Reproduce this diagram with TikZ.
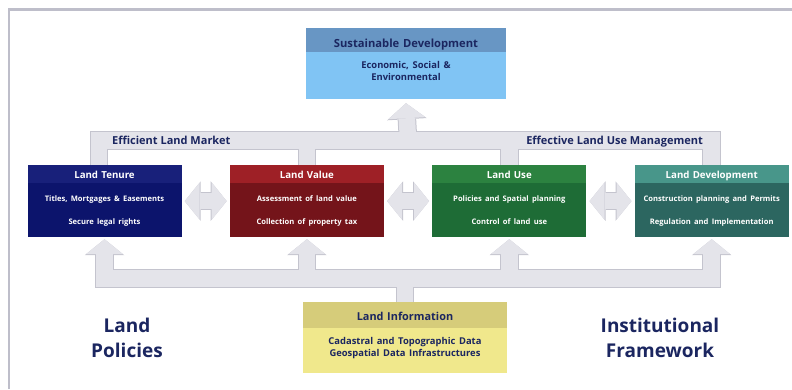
\documentclass[tikz,border=0pt]{standalone}
\usepackage{fontspec}
\setmainfont{Open Sans}
\usepackage{xcolor}
\usetikzlibrary{shapes,positioning,arrows.meta,calc}
\definecolor{navy}{RGB}{27,38,96}
\definecolor{tenureHead}{RGB}{24,32,122}
\definecolor{tenureBody}{RGB}{12,20,108}
\definecolor{valueHead}{RGB}{158,32,38}
\definecolor{valueBody}{RGB}{116,20,26}
\definecolor{useHead}{RGB}{44,130,64}
\definecolor{useBody}{RGB}{30,108,54}
\definecolor{devHead}{RGB}{72,150,138}
\definecolor{devBody}{RGB}{44,102,96}
\definecolor{sustHead}{RGB}{104,150,196}
\definecolor{sustBody}{RGB}{128,196,244}
\definecolor{infoHead}{RGB}{214,204,122}
\definecolor{infoBody}{RGB}{240,232,140}
\definecolor{pipeFill}{RGB}{228,228,234}
\definecolor{pipeEdge}{RGB}{196,196,206}
\definecolor{frameGray}{RGB}{190,190,202}
\tikzset{
	block/.style = {
		rectangle split, rectangle split parts=2, align=center, text width=146pt,
		inner xsep=4pt, inner ysep=4pt, text height=9.5pt, text depth=0pt,
		text=white, font=\bfseries\fontsize{9.7}{12}\selectfont
	}
}
\tikzset{
	tenure/.style = {block, rectangle split part fill={tenureHead,tenureBody}},
	value/.style = {block, rectangle split part fill={valueHead,valueBody}},
	use/.style = {block, rectangle split part fill={useHead,useBody}},
	development/.style = {block, rectangle split part fill={devHead,devBody}}
}
\tikzset{
	goal/.style = {
		block, text=navy, text width=192pt, text height=15pt,
		font=\bfseries\fontsize{11.2}{12}\selectfont,
		rectangle split part fill={sustHead,sustBody}
	}
}
\tikzset{
	source/.style = {
		block, text=navy, text width=196pt, text height=14.5pt, text depth=2.5pt,
		font=\bfseries\fontsize{10.9}{12}\selectfont,
		rectangle split part fill={infoHead,infoBody}
	}
}
\tikzset{
	pipeedge/.style = {
		draw=pipeEdge, line width=18.5pt, line join=miter,
		>={Triangle[width=39.5pt, length=16pt, line width=0pt]}
	}
}
\tikzset{
	pipefill/.style = {
		draw=pipeFill, line width=16.5pt, line join=miter,
		>={Triangle[width=37pt, length=15pt, line width=0pt]}
	}
}
\tikzset{
	bandlabel/.style = {
		text=navy, font=\bfseries\fontsize{11}{12}\selectfont, inner sep=0pt
	}
}
\tikzset{
	biglabel/.style = {
		text=navy, align=center, font=\bfseries\fontsize{19}{25}\selectfont
	}
}

\begin{document}
\begin{tikzpicture}[x=1pt, y=-1pt]
	\useasboundingbox (0,0) rectangle (792,389);
	\draw[frameGray, line width=2.5pt] (9,389) -- (9,9.5) -- (792,9.5);

	\node[tenure, anchor=north](LandTenure) at (104.5,165){Land Tenure
		\nodepart[align=center, text width=146pt]{two}
			\bfseries\fontsize{7.6}{9}\selectfont
			\rule{0pt}{14.5pt}Titles, Mortgages \& Easements\\[11pt]
			Secure legal rights\rule[-8pt]{0pt}{8pt}};
	\node[value, right=48pt of LandTenure](LandValue){Land Value
		\nodepart[align=center, text width=146pt]{two}
			\bfseries\fontsize{7.6}{9}\selectfont
			\rule{0pt}{14.5pt}Assessment of land value\\[11pt]
			Collection of property tax\rule[-8pt]{0pt}{8pt}};
	\node[use, right=48pt of LandValue](LandUse){Land Use
		\nodepart[align=center, text width=146pt]{two}
			\bfseries\fontsize{7.6}{9}\selectfont
			\rule{0pt}{14.5pt}Policies and Spatial planning\\[11pt]
			Control of land use\rule[-8pt]{0pt}{8pt}};
	\node[development, right=48pt of LandUse](LandDevelopment){Land Development
		\nodepart[align=center, text width=146pt]{two}
			\bfseries\fontsize{7.6}{9}\selectfont
			\rule{0pt}{14.5pt}Construction planning and Permits\\[11pt]
			Regulation and Implementation\rule[-8pt]{0pt}{8pt}};
	\node[goal, anchor=north](SustainableDevelopment) at (406,28){Sustainable Development
		\nodepart[align=center, text width=192pt]{two}
			\bfseries\fontsize{9.4}{13}\selectfont
			\rule{0pt}{12.5pt}Economic, Social \&\\
			Environmental\rule[-14.5pt]{0pt}{14.5pt}};
	\node[source, anchor=north](LandInformation) at (405,302){Land Information
		\nodepart[align=center, text width=196pt]{two}
			\bfseries\fontsize{9.4}{13}\selectfont
			\rule{0pt}{12.5pt}Cadastral and Topographic Data\\
			Geospatial Data Infrastructures\rule[-12.5pt]{0pt}{12.5pt}};

	\coordinate (TopHub) at ($(LandValue.north)!.5!(LandUse.north) + (0,-24.5)$);
	\coordinate (BottomHub) at ($(LandInformation.north) + (0,-23.5)$);

	% outline first, then the light fill over it
	\foreach \pass in {pipeedge, pipefill} {
		\draw[\pass] ([xshift=-5.5pt]LandTenure.north) -- ++(0,-24.5) -| (LandDevelopment.north);
		\draw[\pass] (LandValue.north) -- ++(0,-25);
		\draw[\pass] (LandUse.north) -- ++(0,-25);
		\draw[\pass, ->] (TopHub) -- ([yshift=-4pt]SustainableDevelopment.south);
		\draw[\pass] (LandInformation.north) -- (BottomHub);
		\draw[\pass, <->] ([yshift=-2pt]LandTenure.south) |- (BottomHub) -| ([yshift=-2pt]LandDevelopment.south);
		\draw[\pass, ->] (LandValue.south |- BottomHub) -- ([yshift=-2pt]LandValue.south);
		\draw[\pass, ->] (LandUse.south |- BottomHub) -- ([yshift=-2pt]LandUse.south);
		\draw[\pass, <->] ([xshift=3pt]LandTenure.east) -- ([xshift=-3pt]LandValue.west);
		\draw[\pass, <->] ([xshift=3pt]LandValue.east) -- ([xshift=-3pt]LandUse.west);
		\draw[\pass, <->] ([xshift=3pt]LandUse.east) -- ([xshift=-3pt]LandDevelopment.west);
	}

	\node[bandlabel, anchor=base west](MarketLabel) at (112,144){Efficient Land Market};
	\node[bandlabel, anchor=base east](ManagementLabel) at (703,144){Effective Land Use Management};
	\node[biglabel](PoliciesLabel) at (127,337.5){Land\\Policies};
	\node[biglabel](FrameworkLabel) at (660,337.5){Institutional\\Framework};
\end{tikzpicture}
\end{document}
